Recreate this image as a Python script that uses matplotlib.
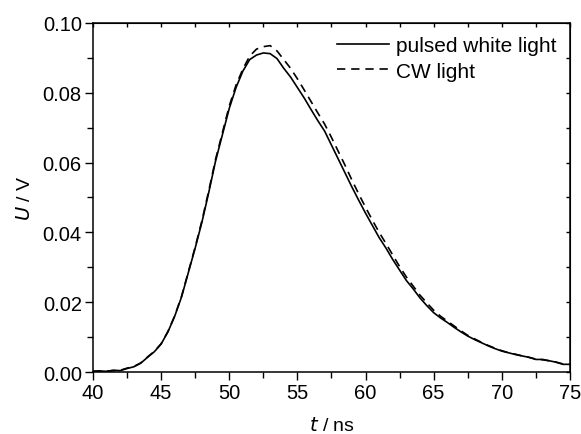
import matplotlib
matplotlib.use("Agg")
import matplotlib.pyplot as plt
from matplotlib.ticker import MultipleLocator, FormatStrFormatter

plt.rcParams['font.family'] = ['Liberation Sans', 'DejaVu Sans']

t = [40.0, 40.5, 41.0, 41.5, 42.0, 42.5, 43.0, 43.5, 44.0, 44.5,
     45.0, 45.5, 46.0, 46.5, 47.0, 47.5, 48.0, 48.5, 49.0, 49.5,
     50.0, 50.5, 51.0, 51.5, 52.0, 52.5, 53.0, 53.5, 54.0, 54.5,
     55.0, 55.5, 56.0, 56.5, 57.0, 57.5, 58.0, 58.5, 59.0, 59.5,
     60.0, 60.5, 61.0, 61.5, 62.0, 62.5, 63.0, 63.5, 64.0, 64.5,
     65.0, 65.5, 66.0, 66.5, 67.0, 67.5, 68.0, 68.5, 69.0, 69.5,
     70.0, 70.5, 71.0, 71.5, 72.0, 72.5, 73.0, 73.5, 74.0, 74.5, 75.0]

pulsed = [0.0002, 0.0003, 0.0002, 0.0005, 0.0004, 0.0010, 0.0015, 0.0025, 0.0042, 0.0058,
          0.0080, 0.0115, 0.0160, 0.0215, 0.0285, 0.0355, 0.0430, 0.0515, 0.0605, 0.0680,
          0.0755, 0.0815, 0.0862, 0.0895, 0.0908, 0.0914, 0.0912, 0.0898, 0.0870, 0.0845,
          0.0815, 0.0785, 0.0752, 0.0720, 0.0690, 0.0650, 0.0610, 0.0570, 0.0530, 0.0492,
          0.0455, 0.0420, 0.0385, 0.0355, 0.0322, 0.0292, 0.0262, 0.0238, 0.0212, 0.0190,
          0.0170, 0.0155, 0.0142, 0.0128, 0.0115, 0.0103, 0.0093, 0.0084, 0.0075, 0.0067,
          0.0060, 0.0055, 0.0050, 0.0046, 0.0042, 0.0036, 0.0036, 0.0032, 0.0028, 0.0022, 0.0022]

cw = [0.0002, 0.0003, 0.0003, 0.0004, 0.0005, 0.0011, 0.0016, 0.0026, 0.0043, 0.0059,
      0.0081, 0.0116, 0.0161, 0.0217, 0.0287, 0.0358, 0.0434, 0.0520, 0.0610, 0.0686,
      0.0762, 0.0822, 0.0868, 0.0905, 0.0925, 0.0932, 0.0935, 0.0920, 0.0895, 0.0870,
      0.0840, 0.0808, 0.0775, 0.0742, 0.0710, 0.0672, 0.0632, 0.0592, 0.0550, 0.0510,
      0.0472, 0.0435, 0.0400, 0.0368, 0.0335, 0.0302, 0.0272, 0.0246, 0.0220, 0.0198,
      0.0177, 0.0160, 0.0146, 0.0132, 0.0118, 0.0105, 0.0095, 0.0085, 0.0076, 0.0068,
      0.0061, 0.0055, 0.0051, 0.0046, 0.0042, 0.0037, 0.0035, 0.0032, 0.0028, 0.0023, 0.0022]

fig = plt.figure(figsize=(5.81, 4.35), dpi=100)
ax = fig.add_axes([0.160, 0.1425, 0.821, 0.8025])

ax.plot(t, pulsed, color='black', lw=1.2, label='pulsed white light')
ax.plot(t, cw, color='black', lw=1.2, dashes=(5, 3.5), label='CW light')

ax.set_xlim(40, 75)
ax.set_ylim(0, 0.10)
ax.xaxis.set_major_locator(MultipleLocator(5))
ax.xaxis.set_minor_locator(MultipleLocator(2.5))
ax.yaxis.set_major_locator(MultipleLocator(0.02))
ax.yaxis.set_minor_locator(MultipleLocator(0.01))
ax.yaxis.set_major_formatter(FormatStrFormatter('%.2f'))
ax.tick_params(which='major', direction='out', length=6, width=1, labelsize=14.5, pad=2)
ax.tick_params(which='minor', direction='out', length=4, width=1)

for s in ax.spines.values():
    s.set_linewidth(1.1)

top = ax.secondary_xaxis('top')
top.xaxis.set_major_locator(MultipleLocator(5))
top.xaxis.set_minor_locator(MultipleLocator(2.5))
top.tick_params(which='both', direction='in', length=3, width=1, labeltop=False)
right = ax.secondary_yaxis('right')
right.yaxis.set_major_locator(MultipleLocator(0.02))
right.yaxis.set_minor_locator(MultipleLocator(0.01))
right.tick_params(which='both', direction='in', length=3, width=1, labelright=False)

ax.set_xlabel(r'$\it{t}$ / ns', fontsize=14, labelpad=10)
ax.set_ylabel(r'$\it{U}$ / V', fontsize=14, labelpad=6)

ax.legend(loc='upper right', frameon=False, fontsize=15, handlelength=2.5,
          handletextpad=0.35, labelspacing=0.3, borderaxespad=0.25,
          bbox_to_anchor=(1.0, 1.0))

fig.savefig('out.png', dpi=100)
